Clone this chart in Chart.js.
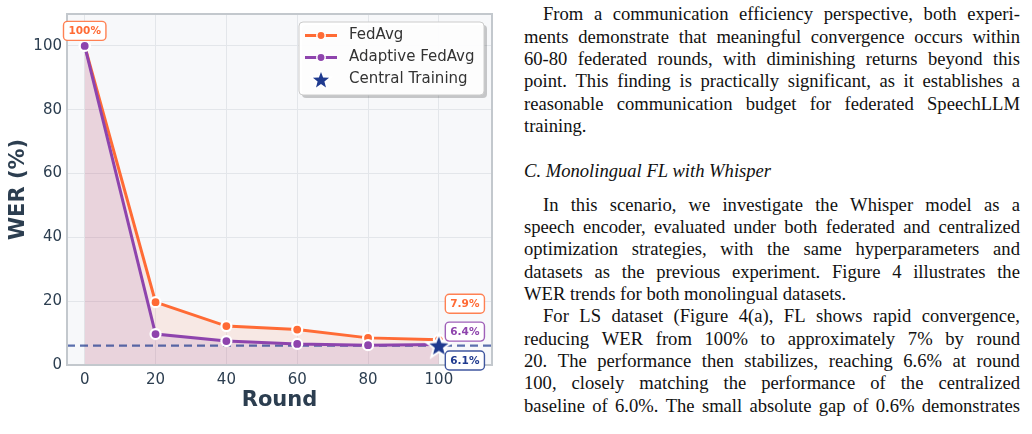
<!DOCTYPE html>
<html>
<head>
<meta charset="utf-8">
<script src="https://cdn.jsdelivr.net/npm/chart.js@4.4.0/dist/chart.umd.min.js"></script>
<style>
html, body { margin: 0; padding: 0; background: #fff; }
body { width: 1032px; height: 434px; position: relative; overflow: hidden; }
#chartBox { position: absolute; left: 0; top: 0; width: 510px; height: 434px; }
#text { position: absolute; left: 524px; top: 0; width: 496px; height: 434px;
        font-family: "Liberation Serif", "Times New Roman", serif; font-size: 18.6px;
        line-height: 22.35px; color: #111; }
.block { position: absolute; left: 0; width: 496px; }
.line { height: 22.35px; white-space: pre; }
.line.just { display: flex; justify-content: space-between; }
.indent { padding-left: 19px; }
.heading { font-style: italic; }
</style>
</head>
<body>
<div id="chartBox"><canvas id="werChart"></canvas></div>
<div id="text"></div>
<script>
// values
const rounds = [0, 20, 40, 60, 80, 100];
const fedAvgWER = [100, 19.7, 12.2, 11.1, 8.5, 7.9];
const adaptiveWER = [100, 9.7, 7.5, 6.6, 6.2, 6.4];
const centralWER = 6.1;
const xTicks = [0, 20, 40, 60, 80, 100];
const yTicks = [0, 20, 40, 60, 80, 100];
const seriesNames = ['FedAvg', 'Adaptive FedAvg', 'Central Training'];

const ORANGE = '#ff6b35';
const PURPLE = '#8e44ad';
const NAVY = '#1f3a8f';
const INK = '#2c3e50';
const GRID = '#e3e6ea';
const FONT = 'DejaVu Sans';

function drawStar(ctx, cx, cy, r, fill, stroke, lw) {
    const inner = r * 0.42;
    ctx.beginPath();
    for (let i = 0; i < 10; i++) {
        const rad = i % 2 === 0 ? r : inner;
        const a = -Math.PI / 2 + i * Math.PI / 5;
        const px = cx + rad * Math.cos(a), py = cy + rad * Math.sin(a);
        if (i === 0) ctx.moveTo(px, py); else ctx.lineTo(px, py);
    }
    ctx.closePath();
    if (stroke) {
        ctx.lineJoin = 'miter';
        ctx.strokeStyle = stroke;
        ctx.lineWidth = lw;
        ctx.stroke();
    }
    ctx.fillStyle = fill;
    ctx.fill();
}

// star marker used as a point style
const starImg = document.createElement('canvas');
starImg.width = 34; starImg.height = 34;
drawStar(starImg.getContext('2d'), 17, 18, 10, NAVY, '#fff', 4);

function fmt(v) { return (v >= 100 ? v.toFixed(0) : v.toFixed(1)) + '%'; }

const last = rounds.length - 1;
const callouts = [
    { text: fmt(fedAvgWER[0]), x: rounds[0], y: fedAvgWER[0], dx: 0, dy: -15, color: ORANGE },
    { text: fmt(fedAvgWER[last]), x: rounds[last], y: fedAvgWER[last], dx: 26, dy: -36, color: ORANGE },
    { text: fmt(adaptiveWER[last]), x: rounds[last], y: adaptiveWER[last], dx: 26, dy: -13, color: PURPLE },
    { text: fmt(centralWER), x: rounds[last], y: centralWER, dx: 26, dy: 15, color: NAVY }
];

const plotFrame = {
    id: 'plotFrame',
    beforeDraw(chart) {
        const { ctx, chartArea: a } = chart;
        ctx.save();
        ctx.fillStyle = '#f7f8fa';
        ctx.fillRect(a.left, a.top, a.right - a.left, a.bottom - a.top);
        ctx.restore();
    },
    beforeDatasetsDraw(chart) {
        // central training baseline
        const { ctx, chartArea: a, scales } = chart;
        const y = scales.y.getPixelForValue(centralWER);
        ctx.save();
        ctx.strokeStyle = 'rgba(31,58,143,0.72)';
        ctx.lineWidth = 2.2;
        ctx.setLineDash([8, 5]);
        ctx.beginPath();
        ctx.moveTo(a.left, y);
        ctx.lineTo(a.right, y);
        ctx.stroke();
        ctx.restore();
    },
    afterDatasetsDraw(chart) {
        const { ctx, chartArea: a, scales } = chart;
        ctx.save();
        ctx.strokeStyle = '#c3c8cd';
        ctx.lineWidth = 2;
        ctx.strokeRect(a.left, a.top, a.right - a.left, a.bottom - a.top);

        ctx.font = 'bold 10.5px "' + FONT + '"';
        ctx.textAlign = 'center';
        ctx.textBaseline = 'middle';
        callouts.forEach(c => {
            const cx = scales.x.getPixelForValue(c.x) + c.dx;
            const cy = scales.y.getPixelForValue(c.y) + c.dy;
            const w = ctx.measureText(c.text).width + 10;
            const h = 19;
            ctx.beginPath();
            ctx.roundRect(cx - w / 2, cy - h / 2, w, h, 4);
            ctx.fillStyle = '#fff';
            ctx.fill();
            ctx.strokeStyle = c.color;
            ctx.globalAlpha = 0.85;
            ctx.lineWidth = 1.4;
            ctx.stroke();
            ctx.globalAlpha = 1;
            ctx.fillStyle = c.color;
            ctx.fillText(c.text, cx, cy + 0.5);
        });
        ctx.restore();
    },
    afterDraw(chart) {
        const { ctx, chartArea: a } = chart;
        const w = 185, h = 73;
        const x = a.right - 8 - w, y = a.top + 8;
        ctx.save();
        ctx.fillStyle = 'rgba(0,0,0,0.2)';
        ctx.beginPath(); ctx.roundRect(x + 3, y + 3, w, h, 4); ctx.fill();
        ctx.fillStyle = 'rgba(255,255,255,0.96)';
        ctx.strokeStyle = '#cccccc';
        ctx.lineWidth = 1;
        ctx.beginPath(); ctx.roundRect(x, y, w, h, 4); ctx.fill(); ctx.stroke();

        const colors = [ORANGE, PURPLE, NAVY];
        ctx.font = '15px "' + FONT + '"';
        ctx.textBaseline = 'middle';
        seriesNames.forEach((name, i) => {
            const cy = y + 13.5 + i * 22;
            if (i < 2) {
                ctx.strokeStyle = colors[i];
                ctx.lineWidth = 3;
                ctx.beginPath(); ctx.moveTo(x + 6, cy); ctx.lineTo(x + 38, cy); ctx.stroke();
                ctx.beginPath(); ctx.arc(x + 22, cy, 4.2, 0, Math.PI * 2);
                ctx.fillStyle = colors[i]; ctx.fill();
                ctx.strokeStyle = '#fff'; ctx.lineWidth = 1.5; ctx.stroke();
            } else {
                drawStar(ctx, x + 22, cy + 1, 8.5, NAVY, '#fff', 3);
            }
            ctx.fillStyle = '#333';
            ctx.fillText(name, x + 50, cy);
        });
        ctx.restore();
    }
};

new Chart(document.getElementById('werChart').getContext('2d'), {
    type: 'line',
    data: {
        datasets: [
            {
                label: seriesNames[0],
                data: rounds.map((r, i) => ({ x: r, y: fedAvgWER[i] })),
                borderColor: ORANGE,
                backgroundColor: 'rgba(255,107,53,0.11)',
                fill: 'origin',
                borderWidth: 3,
                pointRadius: 5,
                pointBackgroundColor: ORANGE,
                pointBorderColor: '#fff',
                pointBorderWidth: 2.2,
                order: 2
            },
            {
                label: seriesNames[1],
                data: rounds.map((r, i) => ({ x: r, y: adaptiveWER[i] })),
                borderColor: PURPLE,
                backgroundColor: 'rgba(142,68,173,0.13)',
                fill: 'origin',
                borderWidth: 3,
                pointRadius: 5,
                pointBackgroundColor: PURPLE,
                pointBorderColor: '#fff',
                pointBorderWidth: 2.2,
                order: 1
            },
            {
                label: seriesNames[2],
                data: [{ x: rounds[last], y: centralWER }],
                showLine: false,
                pointStyle: starImg,
                fill: false,
                order: 0
            }
        ]
    },
    options: {
        responsive: true,
        maintainAspectRatio: false,
        animation: false,
        clip: false,
        layout: { padding: { left: 0, top: 11, right: 18, bottom: 0 } },
        plugins: {
            legend: { display: false },
            tooltip: { enabled: false },
            filler: { drawTime: 'beforeDatasetsDraw' }
        },
        scales: {
            x: {
                type: 'linear',
                min: -5,
                max: 115,
                afterBuildTicks: s => { s.ticks = xTicks.map(v => ({ value: v })); },
                afterFit: s => { s.height = 69; },
                grid: { color: GRID, lineWidth: 1, drawTicks: false },
                border: { display: false },
                ticks: { padding: 6, color: INK, font: { family: FONT, size: 15 } },
                title: {
                    display: true, text: 'Round', color: INK,
                    font: { family: FONT, size: 21, weight: 'bold' },
                    padding: { top: 0, bottom: 21 }
                }
            },
            y: {
                min: 0,
                max: 110,
                afterBuildTicks: s => { s.ticks = yTicks.map(v => ({ value: v })); },
                afterFit: s => { s.width = 67; },
                grid: { color: GRID, lineWidth: 1, drawTicks: false },
                border: { display: false },
                ticks: { padding: 5, color: INK, font: { family: FONT, size: 15 } },
                title: {
                    display: true, text: 'WER (%)', color: INK,
                    font: { family: FONT, size: 21, weight: 'bold' },
                    padding: { top: 6, bottom: 0 }
                }
            }
        }
    },
    plugins: [plotFrame]
});

// the paper text beside the figure
const para1 = [
    'From a communication efficiency perspective, both experi-',
    'ments demonstrate that meaningful convergence occurs within',
    '60-80 federated rounds, with diminishing returns beyond this',
    'point. This finding is practically significant, as it establishes a',
    'reasonable communication budget for federated SpeechLLM',
    'training.'
];
const heading = 'C. Monolingual FL with Whisper';
const para2 = [
    'In this scenario, we investigate the Whisper model as a',
    'speech encoder, evaluated under both federated and centralized',
    'optimization strategies, with the same hyperparameters and',
    'datasets as the previous experiment. Figure 4 illustrates the',
    'WER trends for both monolingual datasets.'
];
const para3 = [
    'For LS dataset (Figure 4(a), FL shows rapid convergence,',
    'reducing WER from 100% to approximately 7% by round',
    '20. The performance then stabilizes, reaching 6.6% at round',
    '100, closely matching the performance of the centralized',
    'baseline of 6.0%. The small absolute gap of 0.6% demonstrates'
];

const textBox = document.getElementById('text');
function addBlock(top, paras) {
    const block = document.createElement('div');
    block.className = 'block';
    block.style.top = top + 'px';
    paras.forEach(p => {
        p.lines.forEach((ln, i) => {
            const div = document.createElement('div');
            div.className = 'line';
            if (i === 0 && p.indent) div.classList.add('indent');
            if (p.heading) div.classList.add('heading');
            const justify = !p.heading && (i < p.lines.length - 1 || p.open);
            if (justify) {
                div.classList.add('just');
                ln.split(' ').forEach(word => {
                    const s = document.createElement('span');
                    s.textContent = word;
                    div.appendChild(s);
                });
            } else {
                div.textContent = ln;
            }
            block.appendChild(div);
        });
    });
    textBox.appendChild(block);
}
addBlock(3.3, [{ lines: para1, indent: true }]);
addBlock(160.1, [{ lines: [heading], heading: true }]);
addBlock(193.6, [{ lines: para2, indent: true }, { lines: para3, indent: true, open: true }]);
</script>
</body>
</html>
